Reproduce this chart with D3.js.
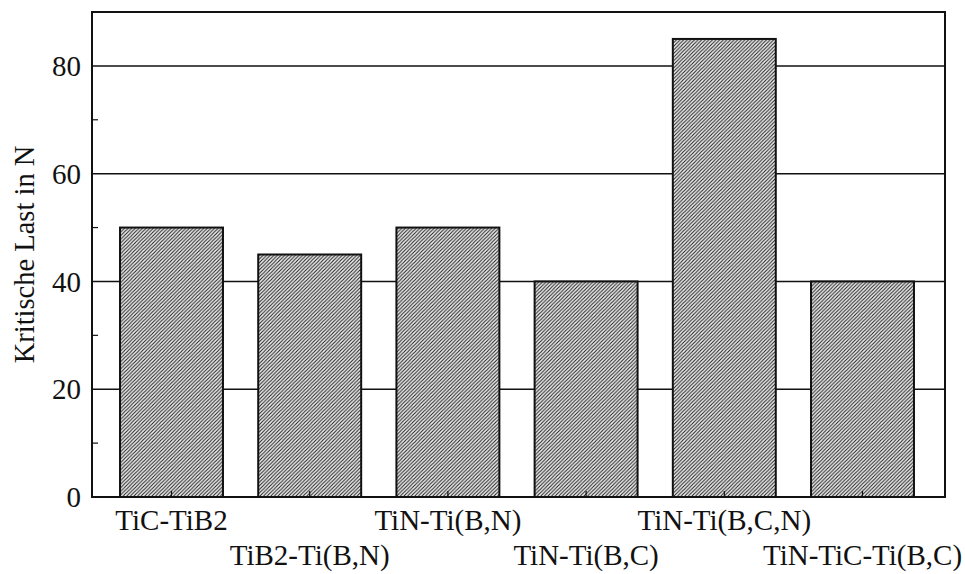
<!DOCTYPE html>
<html>
<head>
<meta charset="utf-8">
<script src="https://cdn.jsdelivr.net/npm/d3@7"></script>
<style>
  html, body { margin: 0; padding: 0; background: #fff; }
  svg { display: block; }
  text { font-family: "Liberation Serif", "Times New Roman", serif; fill: #111; }
</style>
</head>
<body>
<script>
// Critical load per coating system
const categories = ["TiC-TiB2", "TiB2-Ti(B,N)", "TiN-Ti(B,N)", "TiN-Ti(B,C)", "TiN-Ti(B,C,N)", "TiN-TiC-Ti(B,C)"];
const values = [50, 45, 50, 40, 85, 40];
const majorTicks = [0, 20, 40, 60, 80];
const minorTicks = [10, 30, 50, 70];
const yLabel = "Kritische Last in N";

const W = 965, H = 574;
const plot = { left: 92, right: 945, top: 12, bottom: 497 };

const svg = d3.select("body").append("svg").attr("width", W).attr("height", H);

// "/" diagonal hatch used for the bars
const s = 3.6;
const defs = svg.append("defs");
const pat = defs.append("pattern")
  .attr("id", "hatch")
  .attr("patternUnits", "userSpaceOnUse")
  .attr("width", s).attr("height", s);
pat.append("rect").attr("width", s).attr("height", s).attr("fill", "#f2f2f2");
pat.append("path")
  .attr("d", `M0,${s} L${s},0 M${-s / 2},${s / 2} L${s / 2},${-s / 2} M${s / 2},${s * 1.5} L${s * 1.5},${s / 2}`)
  .attr("stroke", "#222").attr("stroke-width", 1.1).attr("stroke-linecap", "square");

const y = d3.scaleLinear().domain([0, 90]).range([plot.bottom, plot.top]);
const x = d3.scaleBand().domain(categories).range([102.4, 931.6]).paddingInner(0.255).paddingOuter(0.1275);

// horizontal grid lines
svg.append("g").selectAll("line").data(majorTicks.filter(d => d > 0)).join("line")
  .attr("x1", plot.left).attr("x2", plot.right)
  .attr("y1", d => y(d)).attr("y2", d => y(d))
  .attr("stroke", "#111").attr("stroke-width", 1.5);

// bars
svg.append("g").selectAll("rect").data(categories).join("rect")
  .attr("x", d => x(d))
  .attr("y", (d, i) => y(values[i]))
  .attr("width", x.bandwidth())
  .attr("height", (d, i) => y(0) - y(values[i]))
  .attr("fill", "url(#hatch)")
  .attr("stroke", "#111").attr("stroke-width", 2);

// small inward ticks at each category centre
svg.append("g").selectAll("line").data(categories).join("line")
  .attr("x1", d => x(d) + x.bandwidth() / 2).attr("x2", d => x(d) + x.bandwidth() / 2)
  .attr("y1", plot.bottom).attr("y2", plot.bottom - 6)
  .attr("stroke", "#111").attr("stroke-width", 1.2);

// frame
svg.append("rect")
  .attr("x", plot.left).attr("y", plot.top)
  .attr("width", plot.right - plot.left).attr("height", plot.bottom - plot.top)
  .attr("fill", "none").attr("stroke", "#111").attr("stroke-width", 2);

// minor ticks on the left axis
svg.append("g").selectAll("line").data(minorTicks).join("line")
  .attr("x1", plot.left).attr("x2", plot.left + 6)
  .attr("y1", d => y(d)).attr("y2", d => y(d))
  .attr("stroke", "#111").attr("stroke-width", 1.2);

// y tick labels
svg.append("g").selectAll("text").data(majorTicks).join("text")
  .attr("x", plot.left - 11)
  .attr("y", d => y(d))
  .attr("dy", "0.35em")
  .attr("text-anchor", "end")
  .attr("font-size", 29)
  .text(d => d);

// category labels, alternating rows
svg.append("g").selectAll("text").data(categories).join("text")
  .attr("x", d => x(d) + x.bandwidth() / 2)
  .attr("y", (d, i) => i % 2 === 0 ? 530 : 565)
  .attr("text-anchor", "middle")
  .attr("font-size", 29)
  .text(d => d);

// y axis title
svg.append("text")
  .attr("transform", `translate(34, ${(plot.top + plot.bottom) / 2}) rotate(-90)`)
  .attr("text-anchor", "middle")
  .attr("font-size", 28.5)
  .text(yLabel);
</script>
</body>
</html>
